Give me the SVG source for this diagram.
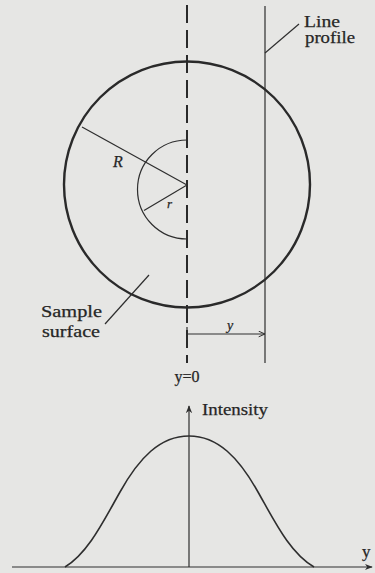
<svg xmlns="http://www.w3.org/2000/svg" width="375" height="573" viewBox="0 0 375 573">
<style>
.t{font-family:"Liberation Serif","DejaVu Serif",serif;fill:#262626;stroke:#262626;stroke-width:0.25}
.i{font-style:italic}
.ln{stroke:#2e2e2e;fill:none;stroke-width:1.2}
</style>
<defs>
<marker id="open" viewBox="0 0 10 10" refX="10" refY="5" markerWidth="7" markerHeight="7" markerUnits="userSpaceOnUse" orient="auto">
<path d="M1,1 L10,5 L1,9" fill="none" stroke="#2e2e2e" stroke-width="1.4"/>
</marker>
<marker id="fill" viewBox="0 0 10 10" refX="9" refY="5" markerWidth="8" markerHeight="8" markerUnits="userSpaceOnUse" orient="auto">
<path d="M0,1 L10,5 L0,9 L3,5 Z" fill="#2e2e2e"/>
</marker>
</defs>
<rect width="375" height="573" fill="#e6e6e4"/>

<g id="sample-surface">
<circle cx="187" cy="184.5" r="123" fill="none" stroke="#2a2a2a" stroke-width="2.4"/>
</g>
<g id="inner-arc">
<path d="M187,140 A49.5,49.5 0 0 0 187,239" class="ln"/>
</g>
<g id="axis-y0">
<line x1="187" y1="5" x2="187" y2="363" stroke="#2a2a2a" stroke-width="2" stroke-dasharray="18 7"/>
<text class="t" x="187" y="382" font-size="16" text-anchor="middle">y=0</text>
</g>
<g id="line-profile">
<line x1="265" y1="6" x2="265" y2="363" class="ln"/>
<text class="t" x="304" y="27" font-size="16" textLength="36" lengthAdjust="spacingAndGlyphs">Line</text>
<text class="t" x="305" y="43" font-size="16" textLength="50" lengthAdjust="spacingAndGlyphs">profile</text>
</g>
<g id="label-R"><text class="t i" x="113" y="167" font-size="16">R</text></g>
<g id="label-r"><text class="t i" x="167" y="208" font-size="13">r</text></g>
<g id="label-sample">
<text class="t" x="41" y="317" font-size="16" textLength="61" lengthAdjust="spacingAndGlyphs">Sample</text>
<text class="t" x="42" y="337" font-size="16" textLength="58" lengthAdjust="spacingAndGlyphs">surface</text>
</g>
<g id="label-ydim"><text class="t i" x="227" y="330" font-size="14">y</text></g>

<g id="intensity-plot">
<line x1="12" y1="567" x2="372" y2="567" class="ln" marker-end="url(#fill)"/>
<line x1="189" y1="567" x2="189" y2="406" class="ln" marker-end="url(#fill)"/>
<path d="M65,567 C88,553 103,522 120,492 C139,458 160,436 189,436 C218,436 239,458 258,492 C275,522 290,553 314,567" fill="none" stroke="#2e2e2e" stroke-width="1.6"/>
<text class="t" x="202" y="415" font-size="17" textLength="66" lengthAdjust="spacingAndGlyphs">Intensity</text>
<text class="t" x="362" y="557" font-size="17">y</text>
</g>

<g id="connectors">
<line x1="265" y1="53" x2="299" y2="24" class="ln"/>
<line x1="82" y1="127" x2="187" y2="185" class="ln"/>
<line x1="187" y1="185" x2="144" y2="210.5" class="ln"/>
<line x1="149" y1="275" x2="105" y2="324" class="ln"/>
<line x1="187" y1="334" x2="265" y2="334" class="ln" marker-end="url(#open)"/>
<line x1="187" y1="327" x2="187" y2="341" class="ln"/>
</g>
</svg>
